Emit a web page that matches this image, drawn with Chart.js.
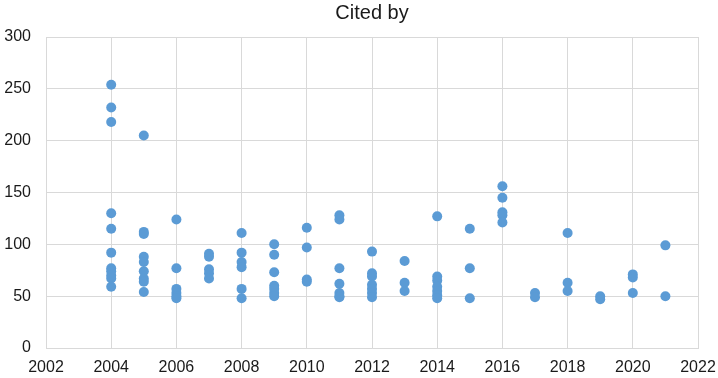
<!DOCTYPE html>
<html>
<head>
<meta charset="utf-8">
<script src="https://cdn.jsdelivr.net/npm/chart.js@4/dist/chart.umd.min.js"></script>
<style>
  html, body { margin: 0; padding: 0; background: #ffffff; }
  #wrap { width: 718px; height: 378px; position: relative; }
</style>
</head>
<body>
<div id="wrap"><canvas id="c"></canvas></div>
<script>
const chartTitle = 'Cited by';
const xTicks = [2002, 2004, 2006, 2008, 2010, 2012, 2014, 2016, 2018, 2020, 2022];
const yTicks = [0, 50, 100, 150, 200, 250, 300];

const pubYear = [
  2004, 2004, 2004, 2004, 2004, 2004, 2004, 2004, 2004, 2004, 2004,
  2005, 2005, 2005, 2005, 2005, 2005, 2005, 2005, 2005,
  2006, 2006, 2006, 2006, 2006, 2006,
  2007, 2007, 2007, 2007, 2007,
  2008, 2008, 2008, 2008, 2008, 2008,
  2009, 2009, 2009, 2009, 2009, 2009, 2009,
  2010, 2010, 2010, 2010,
  2011, 2011, 2011, 2011, 2011, 2011, 2011,
  2012, 2012, 2012, 2012, 2012, 2012, 2012,
  2013, 2013, 2013,
  2014, 2014, 2014, 2014, 2014, 2014, 2014,
  2015, 2015, 2015,
  2016, 2016, 2016, 2016, 2016,
  2017, 2017,
  2018, 2018, 2018,
  2019, 2019,
  2020, 2020, 2020,
  2021, 2021
];
const citedBy = [
  254, 232, 218, 130, 115, 92, 77, 74, 70, 67, 59,
  205, 112, 110, 88, 83, 74, 67, 64, 54,
  124, 77, 57, 53, 50, 48,
  91, 88, 76, 72, 67,
  111, 92, 83, 78, 57, 48,
  100, 90, 73, 60, 57, 53, 50,
  116, 97, 66, 64,
  128, 124, 77, 62, 53, 50, 49,
  93, 72, 69, 61, 57, 53, 49,
  84, 63, 55,
  127, 69, 65, 59, 55, 51, 48,
  115, 77, 48,
  156, 145, 131, 128, 121,
  53, 49,
  111, 63, 55,
  50, 47,
  71, 68, 53,
  99, 50
];

const points = pubYear.map((x, i) => ({ x: x, y: citedBy[i] }));
const gridColor = '#d9d9d9';
const textColor = '#1a1a1a';
const fontFamily = '"Liberation Sans", Arial, sans-serif';

new Chart(document.getElementById('c'), {
  type: 'scatter',
  data: {
    datasets: [{
      label: chartTitle,
      data: points,
      backgroundColor: '#5B9BD5',
      borderColor: '#5B9BD5',
      borderWidth: 0,
      pointRadius: 5,
      pointHoverRadius: 5
    }]
  },
  options: {
    responsive: true,
    maintainAspectRatio: false,
    animation: false,
    events: [],
    layout: { padding: { left: 0, right: 0, top: 0, bottom: 0 } },
    plugins: {
      legend: { display: false },
      tooltip: { enabled: false },
      title: {
        display: true,
        text: chartTitle,
        fullSize: false,
        color: textColor,
        font: { family: fontFamily, size: 20, weight: 'normal' },
        padding: { top: 1, bottom: 12 }
      }
    },
    scales: {
      x: {
        type: 'linear',
        min: xTicks[0],
        max: xTicks[xTicks.length - 1],
        afterBuildTicks: (s) => { s.ticks = xTicks.map(v => ({ value: v })); },
        afterFit: (s) => { s.height = 30; s.paddingRight = 20; s.paddingLeft = 0; },
        ticks: {
          color: textColor,
          font: { family: fontFamily, size: 16 },
          padding: 10,
          maxRotation: 0,
          autoSkip: false,
          callback: (v) => String(v)
        },
        grid: { color: gridColor, lineWidth: 1, drawTicks: false },
        border: { color: gridColor, width: 1 }
      },
      y: {
        min: yTicks[0],
        max: yTicks[yTicks.length - 1],
        afterBuildTicks: (s) => { s.ticks = yTicks.map(v => ({ value: v })); },
        afterFit: (s) => { s.width = 46; },
        ticks: {
          color: textColor,
          font: { family: fontFamily, size: 16 },
          padding: 15,
          callback: (v) => String(v)
        },
        grid: { color: gridColor, lineWidth: 1, drawTicks: false },
        border: { color: gridColor, width: 1 }
      }
    }
  }
});
</script>
</body>
</html>
